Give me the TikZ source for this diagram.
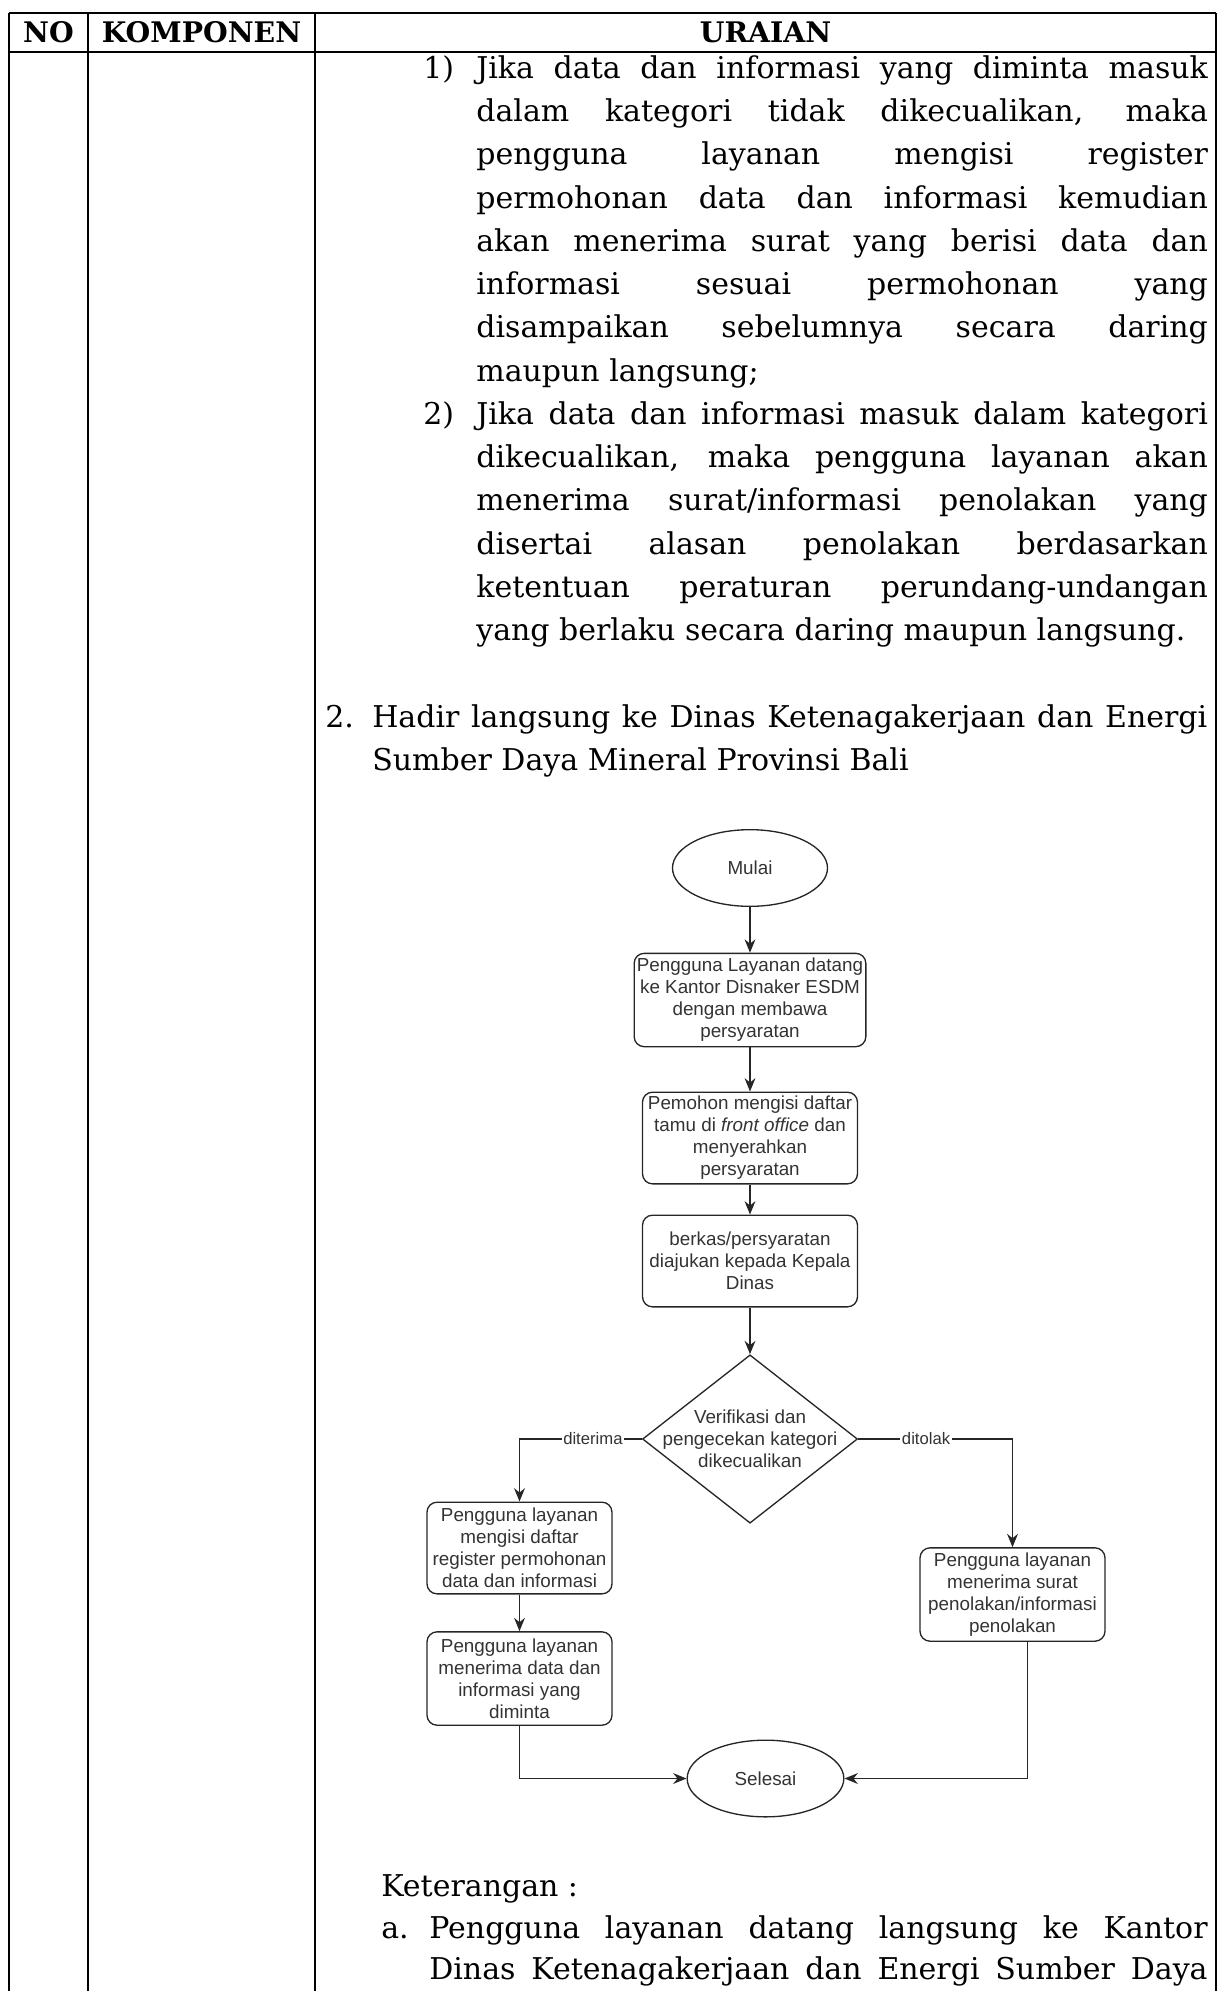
\documentclass[tikz,border=0pt]{standalone}
\usepackage{fontspec}
\setmainfont{DejaVu Serif}
\newfontfamily\flowfont{Liberation Sans}
\usetikzlibrary{shapes.geometric,arrows.meta}

\tikzset{
  tableline/.style={line width=1.2pt},
  headtext/.style={font=\bfseries\fontsize{17}{20}\selectfont},
  bodytext/.style={anchor=base west, inner sep=0pt, align=justify,
    font=\fontsize{18}{26}\selectfont},
  numtext/.style={anchor=base west, inner sep=0pt, font=\fontsize{18}{26}\selectfont},
  flowbox/.style={draw=black!85, line width=0.8pt, rounded corners=6pt,
    align=center, inner sep=1pt, text=black!80,
    font=\flowfont\fontsize{11.3}{13.2}\selectfont},
  terminal/.style={ellipse, draw=black!85, line width=0.8pt, text=black!80,
    minimum width=93pt, minimum height=46pt,
    font=\flowfont\fontsize{11.3}{13.2}\selectfont},
  decision/.style={diamond, draw=black!85, line width=0.8pt,
    minimum width=129pt, minimum height=101pt, inner sep=0pt},
  decisiontext/.style={align=center, text=black!80,
    font=\flowfont\fontsize{11.3}{13.2}\selectfont},
  flowarrow/.style={-{Stealth[length=8pt,width=6.5pt]}, line width=0.8pt, draw=black!85},
  branchtext/.style={fill=white, inner sep=1pt, text=black!80,
    font=\flowfont\fontsize{10}{12}\selectfont},
}

\begin{document}
\begin{tikzpicture}[x=0.6pt, y=-0.6pt]
  \useasboundingbox (0,0) rectangle (1218,1991);

  % Table frame
  \draw[tableline] (9,13) -- (1216,13);
  \draw[tableline] (9,52) -- (1216,52);
  \foreach \xcol in {9,88,315,1216}
    \draw[tableline] (\xcol,13) -- (\xcol,1991);

  % Header row
  \node[headtext] (hno) at (48.5,32) {NO};
  \node[headtext] (hkomponen) at (201.5,32) {KOMPONEN};
  \node[headtext] (huraian) at (765.5,32) {URAIAN};

  % Uraian text above the flowchart
  \node[numtext] (num1) at (423,78) {1)};
  \node[bodytext, text width=439pt] (item1) at (476,78)
    {Jika data dan informasi yang diminta masuk\linebreak
     dalam kategori tidak dikecualikan, maka\linebreak
     pengguna layanan mengisi register\linebreak
     permohonan data dan informasi kemudian\linebreak
     akan menerima surat yang berisi data dan\linebreak
     informasi sesuai permohonan yang\linebreak
     disampaikan sebelumnya secara daring\linebreak
     maupun langsung;};
  \node[numtext] (num2) at (423,424) {2)};
  \node[bodytext, text width=439pt] (item2) at (476,424)
    {Jika data dan informasi masuk dalam kategori\linebreak
     dikecualikan, maka pengguna layanan akan\linebreak
     menerima surat/informasi penolakan yang\linebreak
     disertai alasan penolakan berdasarkan\linebreak
     ketentuan peraturan perundang-undangan\linebreak
     yang berlaku secara daring maupun langsung.};
  \node[numtext] (numhadir) at (325,727) {2.};
  \node[bodytext, text width=501pt] (hadir) at (372,727)
    {Hadir langsung ke Dinas Ketenagakerjaan dan Energi\linebreak
     Sumber Daya Mineral Provinsi Bali};

  % Flowchart
  \node[terminal] (mulai) at (750,868) {Mulai};
  \node[flowbox, minimum width=139pt, minimum height=56pt] (datang) at (750,1000)
    {Pengguna Layanan datang\\ke Kantor Disnaker ESDM\\dengan membawa\\persyaratan};
  \node[flowbox, minimum width=129pt, minimum height=55pt] (daftar) at (750,1138)
    {Pemohon mengisi daftar\\tamu di \textit{front office} dan\\menyerahkan\\persyaratan};
  \node[flowbox, minimum width=129pt, minimum height=55pt] (berkas) at (750,1261)
    {berkas/persyaratan\\diajukan kepada Kepala\\Dinas};
  \node[decision] (cek) at (750,1439) {};
  \node[decisiontext] (cektext) at (cek) {Verifikasi dan\\pengecekan kategori\\dikecualikan};
  \node[flowbox, minimum width=111pt, minimum height=55pt] (register) at (519.5,1548)
    {Pengguna layanan\\mengisi daftar\\register permohonan\\data dan informasi};
  \node[flowbox, minimum width=111pt, minimum height=56pt] (terima) at (519.5,1678.5)
    {Pengguna layanan\\menerima data dan\\informasi yang\\diminta};
  \node[flowbox, minimum width=111pt, minimum height=56pt] (tolak) at (1012.5,1594.5)
    {Pengguna layanan\\menerima surat\\penolakan/informasi\\penolakan};
  \node[terminal, minimum width=94pt] (selesai) at (765.5,1778.5) {Selesai};

  % Connectors
  \draw[flowarrow] (mulai) -- (datang);
  \draw[flowarrow] (datang) -- (daftar);
  \draw[flowarrow] (daftar) -- (berkas);
  \draw[flowarrow] (berkas) -- (cek);
  \draw[flowarrow] (cek.west) -| node[branchtext, pos=0.2] (lbterima) {diterima} (register.north);
  \draw[flowarrow] (cek.east) -| node[branchtext, pos=0.22] (lbtolak) {ditolak} (tolak.north);
  \draw[flowarrow] (register) -- (terima);
  \draw[flowarrow] (terima.south) |- (selesai.west);
  \draw[flowarrow] ([xshift=9pt]tolak.south) |- (selesai.east);

  % Keterangan
  \node[numtext] (ket) at (381,1896) {Keterangan :};
  \node[numtext] (numa) at (381,1938) {a.};
  \node[bodytext, text width=467pt, font=\fontsize{18}{25}\selectfont] (keta) at (429,1938)
    {Pengguna layanan datang langsung ke Kantor\linebreak
     Dinas Ketenagakerjaan dan Energi Sumber Daya\linebreak\mbox{}};
\end{tikzpicture}
\end{document}
